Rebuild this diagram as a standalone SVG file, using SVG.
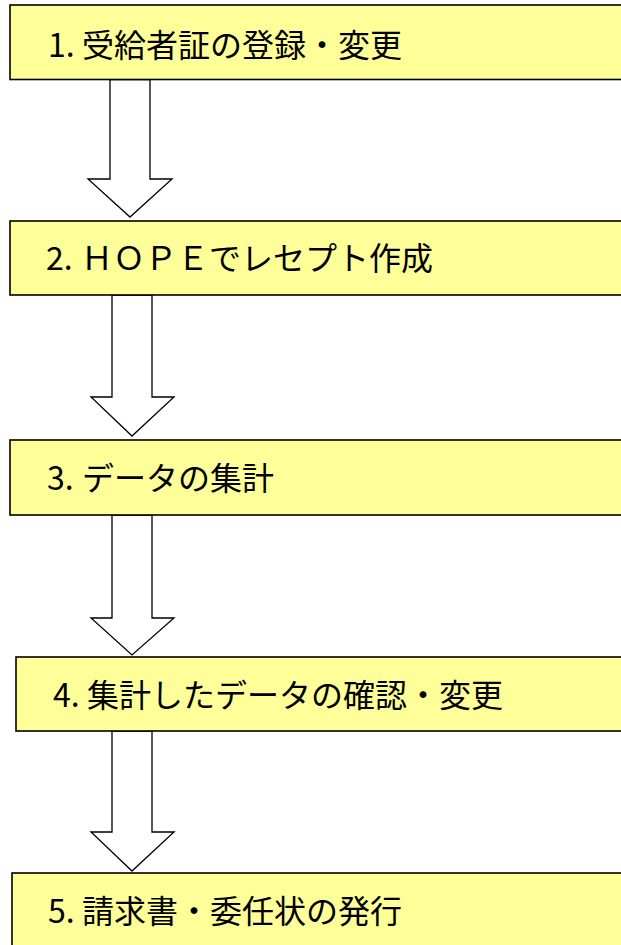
<svg xmlns="http://www.w3.org/2000/svg" width="621" height="945" viewBox="0 0 621 945">
<style>
.box{fill:#FFFF99;stroke:#000;stroke-width:1.6}
.arr{fill:#fff;stroke:#000;stroke-width:1.3;stroke-linejoin:miter}
.lbl{font-family:"Noto Sans CJK JP","Noto Sans CJK SC",sans-serif;font-size:32px;fill:#000}
</style>
<rect width="621" height="945" fill="#fff"/>
<g id="connectors">
<path class="arr" d="M110,79.5 V179 H88 L130,217 L172,179 H150 V79.5 Z"/>
<path class="arr" d="M112,295 V397 H91 L132,436 L174,397 H152 V295 Z"/>
<path class="arr" d="M112,515 V618 H91 L132,655 L174,618 H152 V515 Z"/>
<path class="arr" d="M112,731 V832 H91 L132,871 L174,832 H152 V731 Z"/>
</g>
<g id="n1"><rect class="box" x="10" y="5" width="640" height="74.5"/><text class="lbl" x="48" y="57">1.<tspan x="82">受給者証の登録・変更</tspan></text></g>
<g id="n2"><rect class="box" x="10" y="221" width="640" height="74"/><text class="lbl" x="46" y="270">2.<tspan x="81">ＨＯＰＥでレセプト作成</tspan></text></g>
<g id="n3"><rect class="box" x="10" y="440" width="640" height="75"/><text class="lbl" x="47" y="490">3.<tspan x="82">データの集計</tspan></text></g>
<g id="n4"><rect class="box" x="16" y="657" width="640" height="74"/><text class="lbl" x="53" y="707">4.<tspan x="87">集計したデータの確認・変更</tspan></text></g>
<g id="n5"><rect class="box" x="12" y="873" width="640" height="90"/><text class="lbl" x="48" y="923">5.<tspan x="82">請求書・委任状の発行</tspan></text></g>
</svg>
